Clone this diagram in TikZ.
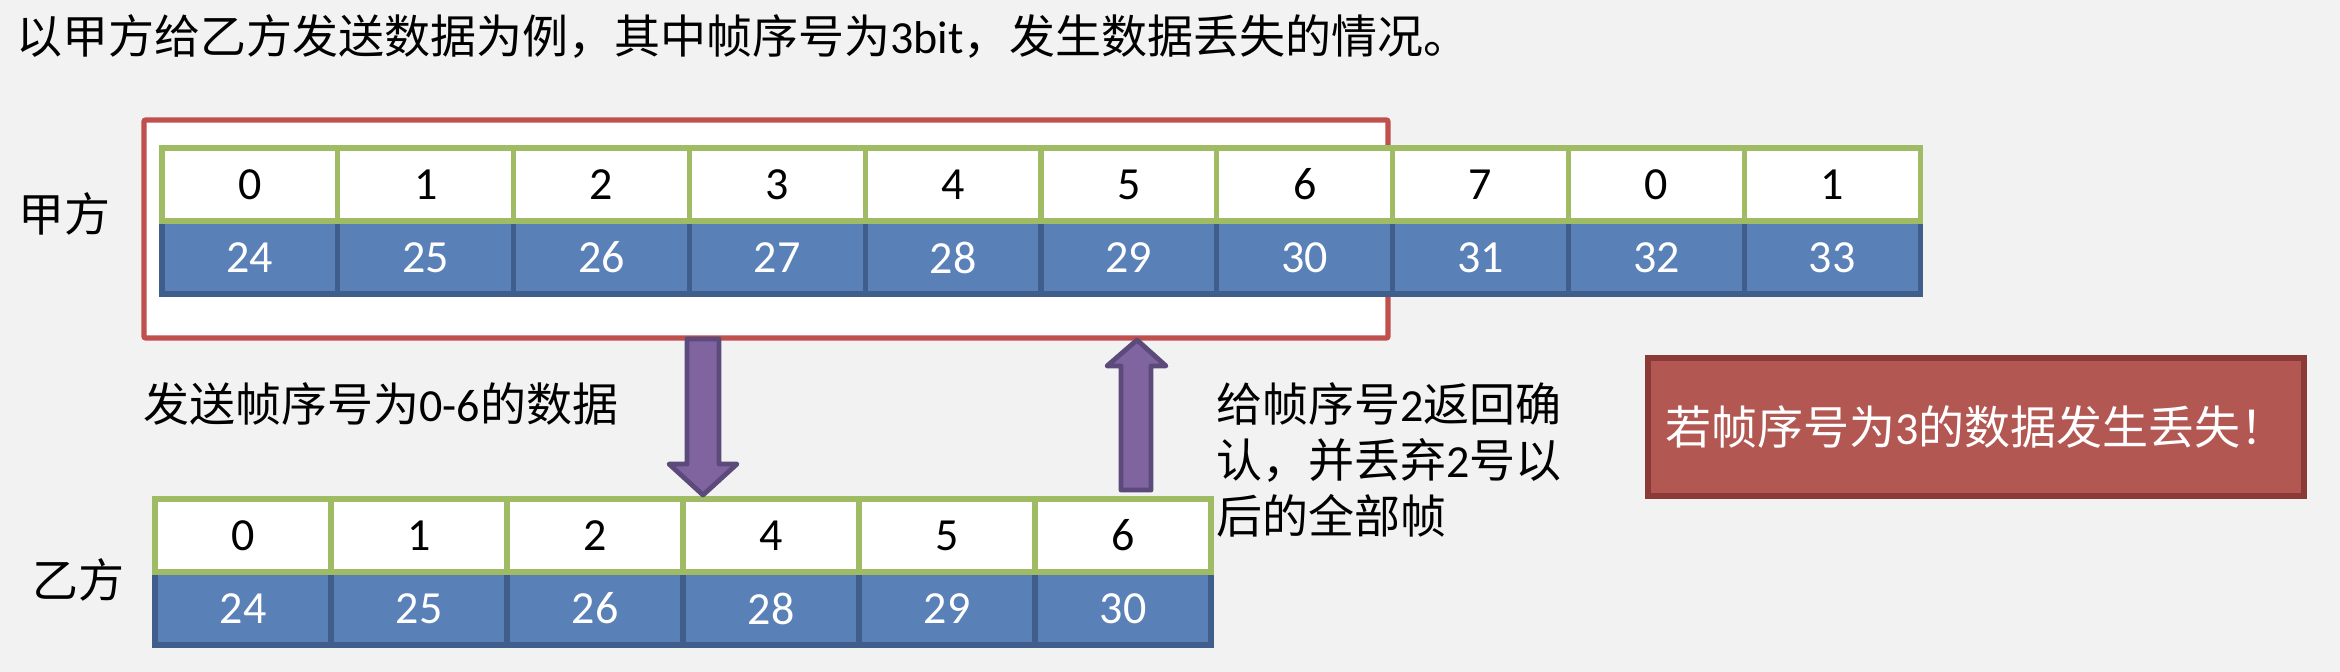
\documentclass[tikz,border=0pt]{standalone}
\usepackage{fontspec}
\setmainfont{Carlito}
\newfontfamily\cjk{Noto Sans CJK SC}
\newcommand\zhtext[1]{{\cjk #1}}
\definecolor{bgc}{HTML}{F2F2F2}
\definecolor{framered}{HTML}{C0504D}
\definecolor{cellgreen}{HTML}{9FBB63}
\definecolor{cellblue}{HTML}{5A80B8}
\definecolor{cellblueedge}{HTML}{3F5E8C}
\definecolor{arrowfill}{HTML}{8064A0}
\definecolor{arrowedge}{HTML}{5C4A7A}
\definecolor{boxfill}{HTML}{B35752}
\definecolor{boxedge}{HTML}{8C3A38}
\tikzset{
  txt/.style={inner sep=0pt, font=\fontsize{23}{28}\selectfont},
  whitecell/.style={txt, rectangle, fill=white, draw=cellgreen, line width=2.6pt,
    minimum width=88pt, minimum height=36.5pt},
  bluecell/.style={txt, rectangle, fill=cellblue, draw=cellblueedge, line width=2.6pt,
    minimum width=88pt, minimum height=36.5pt, text=white},
  blockarrow/.style={fill=arrowfill, draw=arrowedge, line width=2.4pt, line join=round},
}
\begin{document}
\begin{tikzpicture}[x=0.5pt,y=-0.5pt]
\useasboundingbox[fill=bgc] (0,0) rectangle (2340,672);

% title
\node[txt, anchor=west] (title) at (16,37)
  {\zhtext{以甲方给乙方发送数据为例，其中帧序号为}3bit\zhtext{，发生数据丢失的情况。}};

% sender window frame
\draw[framered, line width=2.7pt, fill=white, rounded corners=1pt] (144,120) rectangle (1388,338);
\coordinate (framebottom) at (703,338);

% sender row
\foreach \i/\b in {0/24,1/25,2/26,3/27,4/28,5/29,6/30,7/31,8/32,9/33}
  \node[bluecell] (sb\i) at ({162+175.8*(\i+0.5)},257.5) {\b};
\foreach \i/\a in {0/0,1/1,2/2,3/3,4/4,5/5,6/6,7/7,8/0,9/1}
  \node[whitecell] (sw\i) at ({162+175.8*(\i+0.5)},184.5) {\a};

% receiver row
\foreach \i/\b in {0/24,1/25,2/26,3/28,4/29,5/30}
  \node[bluecell] (rb\i) at ({155+176*(\i+0.5)},608.5) {\b};
\foreach \i/\a in {0/0,1/1,2/2,3/4,4/5,5/6}
  \node[whitecell] (rw\i) at ({155+176*(\i+0.5)},535.5) {\a};

% labels
\node[txt, anchor=west] (jia) at (18,214) {\zhtext{甲方}};
\node[txt, anchor=west] (yi) at (32,580) {\zhtext{乙方}};
\node[txt, anchor=west] (sendlbl) at (143,404) {\zhtext{发送帧序号为}0-6\zhtext{的数据}};
\node[txt, anchor=west, align=left] (acklbl) at (1216,460)
  {\zhtext{给帧序号}2\zhtext{返回确}\\\zhtext{认，并丢弃}2\zhtext{号以}\\\zhtext{后的全部帧}};

% loss box
\node[txt, rectangle, fill=boxfill, draw=boxedge, line width=2.6pt, text=white,
  minimum width=328pt, minimum height=69pt] (lossbox) at (1976,427)
  {\zhtext{若帧序号为}3\zhtext{的数据发生丢失！}};

% block arrows
\draw[blockarrow] (687,339) -- (719,339) -- (719,464) -- (737,464) -- (703,495)
  -- (669,464) -- (687,464) -- cycle;
\draw[blockarrow] (1121,490) -- (1151,490) -- (1151,366) -- (1166,366) -- (1137,340)
  -- (1107,366) -- (1121,366) -- cycle;
\end{tikzpicture}
\end{document}
